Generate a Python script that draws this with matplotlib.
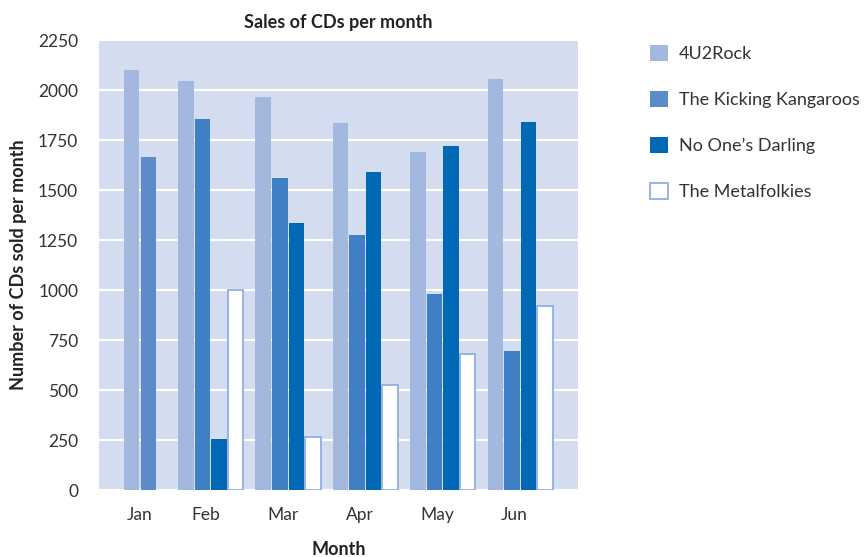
import numpy as np
import matplotlib.pyplot as plt

plt.rcParams['font.family'] = ['Lato', 'DejaVu Sans']

# Data
months = ['Jan', 'Feb', 'Mar', 'Apr', 'May', 'Jun']
bands = ['4U2Rock', 'The Kicking Kangaroos', 'No One\u2019s Darling', 'The Metalfolkies']
rock = [2100, 2045, 1965, 1835, 1690, 2055]
kangaroos = [1665, 1855, 1560, 1275, 980, 695]
darling = [np.nan, 255, 1335, 1590, 1720, 1840]
metalfolkies = [np.nan, 1000, 265, 525, 680, 920]
y_ticks = [0, 250, 500, 750, 1000, 1250, 1500, 1750, 2000, 2250]

# Layout (Jan group sits closer to Feb in the original)
group_pos = np.array([0.3, 1, 2, 3, 4, 5])
step = 0.214
width = 0.2
tick_pos = [0.3 - step, 0.93, 1.93, 2.93, 3.93, 4.93]

face = ['#a3b8de', '#3f7fc3', '#0068b5', 'white']
kang_colors = ['#5b8bc9'] + ['#3f7fc3'] * 5

fig = plt.figure(figsize=(8.64, 5.57), dpi=100)
ax = fig.add_axes([0.1146, 0.120, 0.5544, 0.808])
ax.set_facecolor('#d4ddef')

series = [rock, kangaroos, darling, metalfolkies]
for k, vals in enumerate(series):
    x = group_pos + (k - 1.5) * step
    if k == 3:
        ax.bar(x, vals, width, color='white', edgecolor='#8fb0e2',
               linewidth=1.3, label=bands[k], zorder=3)
    elif k == 1:
        ax.bar(x, vals, width, color=kang_colors, label=bands[k], zorder=3)
    else:
        ax.bar(x, vals, width, color=face[k], label=bands[k], zorder=3)

ax.set_xlim(-0.444, 5.749)
ax.set_ylim(0, 2250)
ax.set_yticks(y_ticks)
ax.set_xticks(tick_pos)
ax.set_xticklabels(months)
ax.yaxis.grid(True, color='white', linewidth=1.6, zorder=1)
ax.set_axisbelow(True)
for s in ax.spines.values():
    s.set_visible(False)
ax.tick_params(length=0, labelsize=12.5, colors='#333333')
ax.tick_params(axis='y', pad=15)
ax.tick_params(axis='x', pad=12)

ax.set_title('Sales of CDs per month', fontsize=13, fontweight='bold',
             color='#222222', pad=9)
ax.set_xlabel('Month', fontsize=13, fontweight='bold', color='#222222',
              labelpad=13)
ax.set_ylabel('Number of CDs sold per month', fontsize=13,
              fontweight='bold', color='#222222', labelpad=8)

fig.legend(loc='upper left', bbox_to_anchor=(0.752, 0.92), frameon=False,
           fontsize=13, handlelength=1.0, handleheight=1.0,
           labelspacing=1.6, handletextpad=0.6, borderpad=0,
           borderaxespad=0, labelcolor='#333333')

fig.savefig('out.png', dpi=100)
